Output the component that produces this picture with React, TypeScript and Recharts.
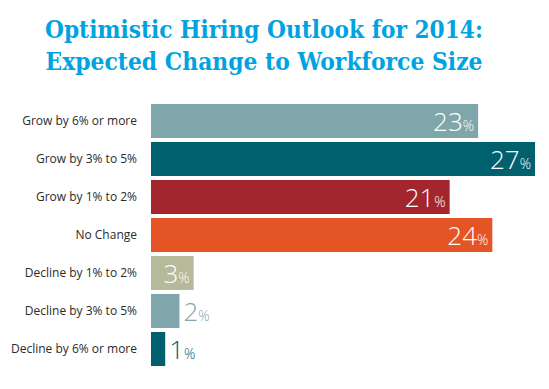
import React from "react";
import { BarChart, Bar, XAxis, YAxis, Cell, LabelList } from "recharts";

// Expected change to workforce size, 2014 (% of respondents)
const categories = [
  "Grow by 6% or more",
  "Grow by 3% to 5%",
  "Grow by 1% to 2%",
  "No Change",
  "Decline by 1% to 2%",
  "Decline by 3% to 5%",
  "Decline by 6% or more",
];
const values = [23, 27, 21, 24, 3, 2, 1];
const barColors = ["#7fa7ab", "#00606e", "#a3262f", "#e45424", "#b6b99a", "#7fa7ab", "#00606e"];
const titleLines = ["Optimistic Hiring Outlook for 2014:", "Expected Change to Workforce Size"];

const data = categories.map((name, i) => ({ name, value: values[i] }));

const LABEL_FONT = "'Open Sans', 'Noto Sans', sans-serif";

/** value label: white inside the bar, bar-coloured outside when the bar is short */
function ValueLabel(props: any) {
  const { x, y, width, height, value, index } = props;
  const inside = value >= 3;
  const cy = y + height / 2 + 10;
  const fill = inside ? "#ffffff" : barColors[index];
  return (
    <text
      x={inside ? x + width - 4 : x + width + 4}
      y={cy}
      textAnchor={inside ? "end" : "start"}
      fill={fill}
      fontFamily={LABEL_FONT}
      fontWeight={300}
      fontSize={26}
    >
      {value}
      <tspan fontSize={14}>%</tspan>
    </text>
  );
}

function CategoryTick(props: any) {
  const { x, y, payload } = props;
  return (
    <text x={x} y={y} dy={4} textAnchor="end" fill="#2b2b2b" fontFamily={LABEL_FONT} fontSize={12}>
      {payload.value}
    </text>
  );
}

export default function App() {
  return (
    <div style={{ position: "absolute", left: 0, top: 0, width: 549, height: 389, background: "#fff" }}>
      <svg width={549} height={90} style={{ position: "absolute", left: 0, top: 0 }}>
        {titleLines.map((line, i) => (
          <text
            key={line}
            x={264}
            y={38 + i * 32}
            textAnchor="middle"
            fill="#00a3e0"
            fontFamily="'DejaVu Serif', serif"
            fontWeight="bold"
            fontSize={24}
            textLength={i === 0 ? 438 : 437}
            lengthAdjust="spacingAndGlyphs"
          >
            {line}
          </text>
        ))}
      </svg>
      <div style={{ position: "absolute", left: 0, top: 0 }}>
        <BarChart
          width={549}
          height={389}
          data={data}
          layout="vertical"
          margin={{ top: 102, right: 14, bottom: 21, left: 0 }}
        >
          <XAxis type="number" domain={[0, 27]} hide />
          <YAxis
            type="category"
            dataKey="name"
            width={151}
            axisLine={false}
            tickLine={false}
            tickMargin={8}
            tick={<CategoryTick />}
            interval={0}
          />
          <Bar dataKey="value" barSize={34} isAnimationActive={false}>
            {data.map((d, i) => (
              <Cell key={d.name} fill={barColors[i]} />
            ))}
            <LabelList dataKey="value" content={<ValueLabel />} />
          </Bar>
        </BarChart>
      </div>
    </div>
  );
}
